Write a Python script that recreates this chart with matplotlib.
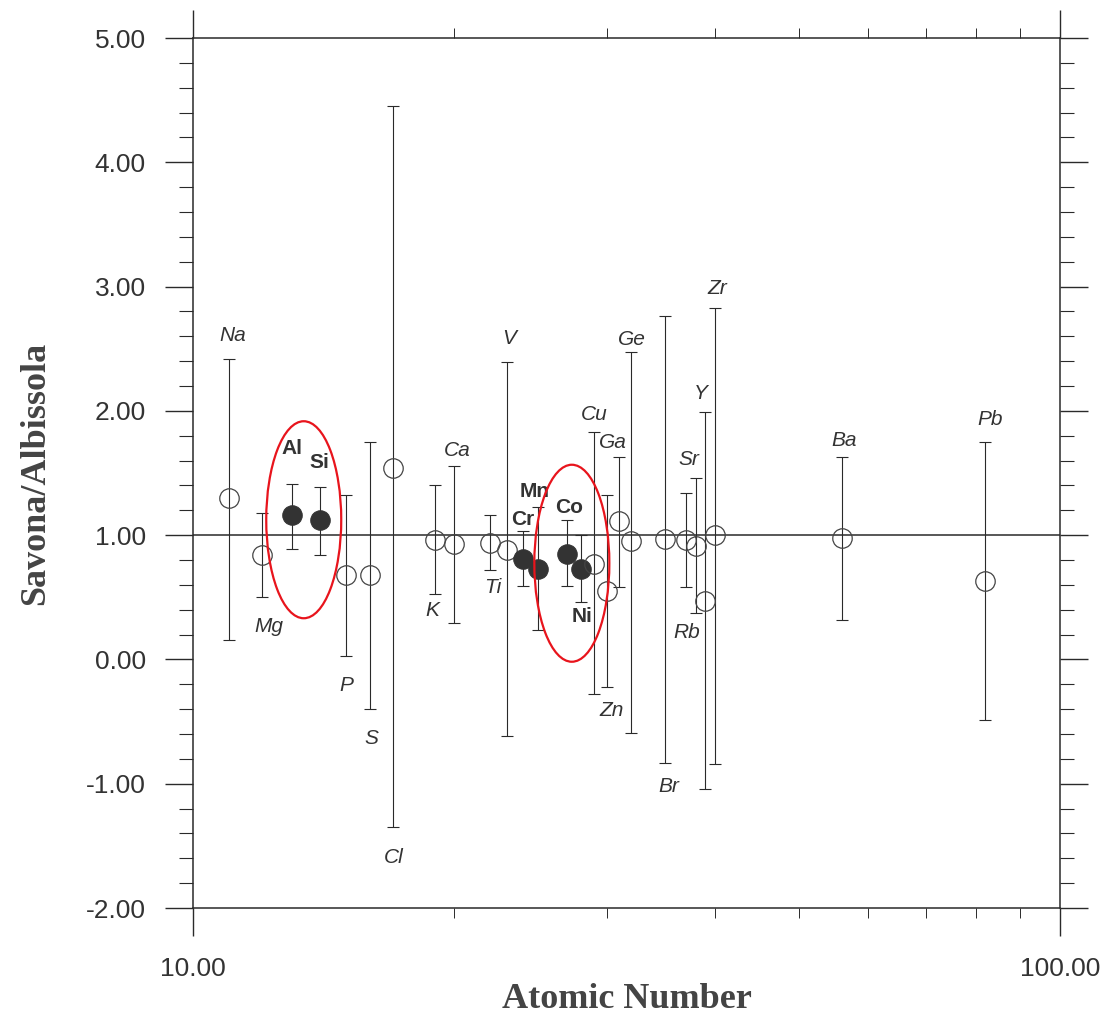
import math
import matplotlib
matplotlib.use("Agg")
import matplotlib.pyplot as plt
from matplotlib.patches import Ellipse
from matplotlib.ticker import FixedLocator, MultipleLocator, NullFormatter, FuncFormatter

# ---- data ----
elements = ["Na", "Mg", "Al", "Si", "P", "S", "Cl", "K", "Ca", "Ti", "V", "Cr", "Mn",
            "Co", "Ni", "Cu", "Zn", "Ga", "Ge", "Br", "Rb", "Sr", "Y", "Zr", "Ba", "Pb"]
atomic_number = [11, 12, 13, 14, 15, 16, 17, 19, 20, 22, 23, 24, 25,
                 27, 28, 29, 30, 31, 32, 35, 37, 38, 39, 40, 56, 82]
ratio = [1.30, 0.84, 1.16, 1.12, 0.68, 0.68, 1.54, 0.96, 0.93, 0.94, 0.88, 0.81, 0.73,
         0.85, 0.73, 0.77, 0.55, 1.11, 0.95, 0.97, 0.96, 0.91, 0.47, 1.00, 0.98, 0.63]
upper = [2.42, 1.18, 1.41, 1.39, 1.32, 1.75, 4.45, 1.40, 1.56, 1.16, 2.39, 1.03, 1.23,
         1.12, 1.00, 1.83, 1.32, 1.63, 2.47, 2.76, 1.34, 1.46, 1.99, 2.83, 1.63, 1.75]
lower = [0.16, 0.50, 0.89, 0.84, 0.03, -0.40, -1.35, 0.53, 0.29, 0.72, -0.62, 0.59, 0.24,
         0.59, 0.46, -0.28, -0.22, 0.58, -0.59, -0.83, 0.58, 0.37, -1.04, -0.84, 0.32, -0.49]
highlighted = ["Al", "Si", "Cr", "Mn", "Co", "Ni"]
groups = [["Al", "Si"], ["Co", "Ni"]]

x_ticks = [10, 100]
y_ticks = [-2, -1, 0, 1, 2, 3, 4, 5]

# ---- label placement (style): side of error bar and pixel offset ----
label_place = {
    "Na": ("top", 4, 23), "Mg": ("bot", 7, -29), "Al": ("top", 0, 36), "Si": ("top", 0, 24),
    "P": ("bot", 1, -30), "S": ("bot", 1, -29), "Cl": ("bot", 1, -30), "K": ("bot", -2, -17),
    "Ca": ("top", 3, 15), "Ti": ("bot", 3, -18), "V": ("top", 3, 24), "Cr": ("top", 0, 12),
    "Mn": ("top", -3, 15), "Co": ("top", 2, 13), "Ni": ("bot", 1, -14), "Cu": ("top", 0, 17),
    "Zn": ("bot", 5, -24), "Ga": ("top", -6, 14), "Ge": ("top", 1, 13), "Br": ("bot", 4, -24),
    "Rb": ("bot", 1, -45), "Sr": ("top", -7, 18), "Y": ("top", -5, 19), "Zr": ("top", 2, 19),
    "Ba": ("top", 2, 16), "Pb": ("top", 5, 22),
}

W, H = 1110, 1024
fig = plt.figure(figsize=(W / 100, H / 100), dpi=100)
ax = fig.add_axes([193 / W, (H - 908) / H, 867 / W, 870 / H])

ax.set_xscale("log")
ax.set_xlim(10, 100)
ax.set_ylim(-2, 5)

ink = "#2a2a2a"
ax.axhline(1.0, color=ink, lw=1.1, zorder=1)

for el, z, r, up, lo in zip(elements, atomic_number, ratio, upper, lower):
    filled = el in highlighted
    ax.errorbar([z], [r], yerr=[[r - lo], [up - r]], fmt="none", ecolor=ink,
                elinewidth=0.8, capsize=4.3, capthick=0.8, zorder=2)
    if filled:
        ax.plot([z], [r], "o", ms=14, mfc="#333333", mec="#333333", mew=0.8, zorder=3)
    else:
        ax.plot([z], [r], "o", ms=14, mfc="none", mec="#444444", mew=0.9, zorder=3)
    side, dx, dy = label_place[el]
    yref = up if side == "top" else lo
    ax.annotate(el, xy=(z, yref), xytext=(dx, dy), textcoords="offset pixels",
                ha="center", va="center", fontsize=15, color="#333333",
                family="Liberation Sans",
                fontstyle="normal" if filled else "italic",
                fontweight="bold" if filled else "normal", zorder=4)

# red ellipses around highlighted groups
for grp in groups:
    zs = [atomic_number[elements.index(e)] for e in grp]
    ys = [ratio[elements.index(e)] for e in grp]
    zc = math.exp(sum(math.log(v) for v in zs) / len(zs))
    yc = sum(ys) / len(ys)
    cx, cy = ax.transAxes.inverted().transform(ax.transData.transform((zc, yc)))
    ax.add_patch(Ellipse((cx - 2 / 867, cy - 2 / 870), 75 / 867, 197 / 870,
                         transform=ax.transAxes, fill=False, ec="#e8141c", lw=1.6, zorder=5))

# axes styling
for s in ax.spines.values():
    s.set_linewidth(1.1)
    s.set_color(ink)

ax.xaxis.set_major_locator(FixedLocator(x_ticks))
ax.xaxis.set_major_formatter(FuncFormatter(lambda v, p: f"{v:.2f}"))
ax.xaxis.set_minor_locator(FixedLocator([20, 30, 40, 50, 60, 70, 80, 90]))
ax.xaxis.set_minor_formatter(NullFormatter())
ax.yaxis.set_major_locator(FixedLocator(y_ticks))
ax.yaxis.set_major_formatter(FuncFormatter(lambda v, p: f"{v:.2f}"))
ax.yaxis.set_minor_locator(MultipleLocator(0.2))

ax.tick_params(axis="both", which="both", direction="out", top=True, right=True,
               colors=ink, labelcolor="#333333")
ax.tick_params(axis="y", which="major", length=20, width=1.0, pad=14, labelsize=19)
ax.tick_params(axis="y", which="minor", length=10, width=0.8)
ax.tick_params(axis="x", which="major", length=20, width=1.0, pad=15, labelsize=19)
ax.tick_params(axis="x", which="minor", length=7, width=0.7)
for lab in ax.get_xticklabels() + ax.get_yticklabels():
    lab.set_family("Liberation Sans")

ax.set_xlabel("Atomic Number", family="Liberation Serif", fontweight="bold",
              fontsize=26, color="#444444", labelpad=2)
ax.set_ylabel("Savona/Albissola", family="Liberation Serif", fontweight="bold",
              fontsize=26, color="#444444", labelpad=24)

fig.savefig("out.png", dpi=100)
